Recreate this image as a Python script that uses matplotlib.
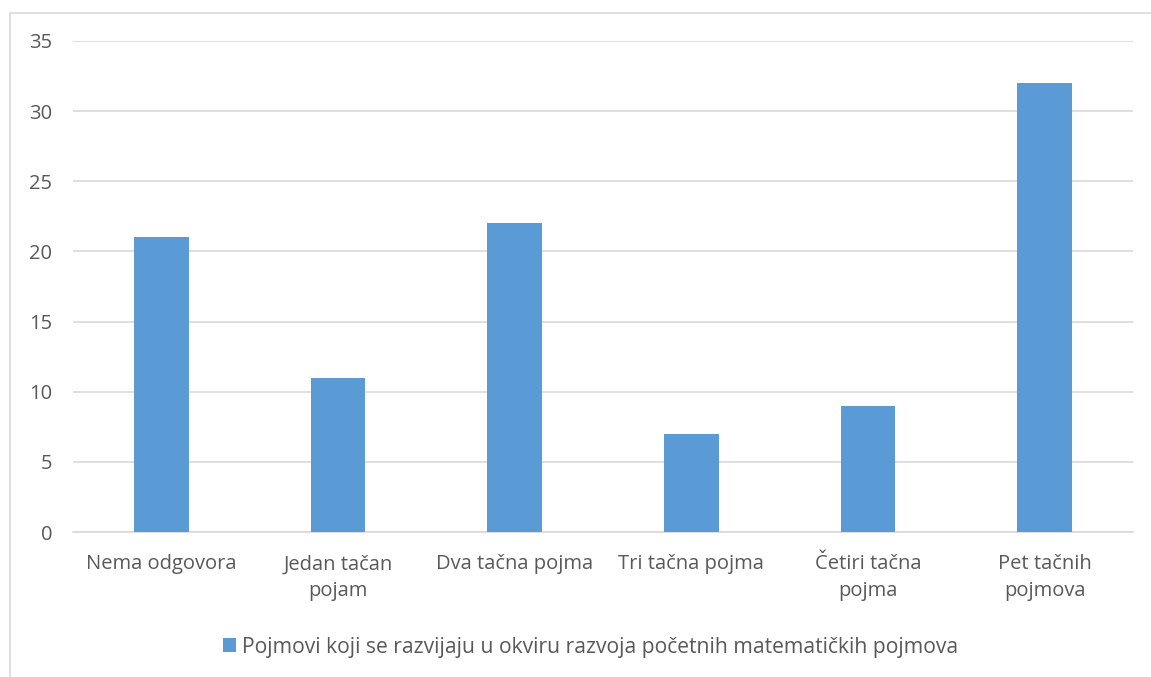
import numpy as np
import matplotlib.pyplot as plt
from matplotlib.patches import Rectangle

categories = ["Nema odgovora", "Jedan tačan\npojam", "Dva tačna pojma",
              "Tri tačna pojma", "Četiri tačna\npojma", "Pet tačnih\npojmova"]
values = [21, 11, 22, 7, 9, 32]
series_name = "Pojmovi koji se razvijaju u okviru razvoja početnih matematičkih pojmova"
yticks = [0, 5, 10, 15, 20, 25, 30, 35]

bar_color = "#5B9BD5"
text_color = "#595959"
grid_color = "#D9D9D9"

plt.rcParams['font.family'] = ['Open Sans', 'DejaVu Sans']

fig = plt.figure(figsize=(11.51, 6.77), dpi=100, facecolor="w")
W, H = 1151, 677
# plot area in pixels: left 73, right 1133, top 41, bottom 532
ax = fig.add_axes([73 / W, 1 - 532 / H, (1133 - 73) / W, (532 - 41) / H])

x = np.arange(len(categories))
ax.bar(x, values, width=0.31, color=bar_color, zorder=3, label=series_name)

ax.set_xlim(-0.5, len(categories) - 0.5)
ax.set_ylim(0, 35)
ax.set_yticks(yticks)
ax.set_xticks(x)
ax.set_xticklabels(categories, linespacing=1.45)
ax.tick_params(axis="both", length=0, labelsize=14.5, colors=text_color)
ax.tick_params(axis="y", pad=15)
ax.tick_params(axis="x", pad=16)
ax.yaxis.grid(True, color=grid_color, linewidth=1.2, zorder=0)
for s in ["top", "right", "left"]:
    ax.spines[s].set_visible(False)
ax.spines["bottom"].set_color(grid_color)
ax.spines["bottom"].set_linewidth(1.2)

# outer chart border (clipped at right and bottom)
fig.patches.append(Rectangle((9.5 / W, -0.1), 1.2, 1 - 12.5 / H + 0.1,
                             transform=fig.transFigure, fill=False,
                             edgecolor="#D9D9D9", linewidth=1.2))

leg = fig.legend(loc="center", bbox_to_anchor=(591 / W, 1 - 647 / H),
                 frameon=False, fontsize=15.2, handlelength=0.6,
                 handleheight=0.6, handletextpad=0.3, labelcolor=text_color)

fig.savefig("out.png", dpi=100, facecolor="w")
